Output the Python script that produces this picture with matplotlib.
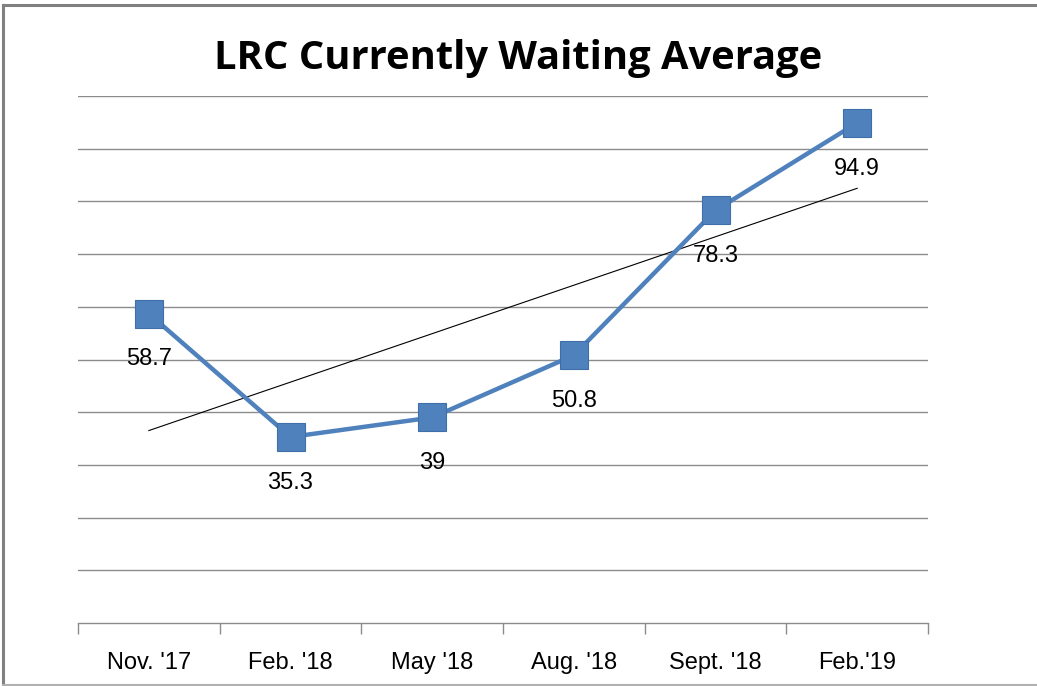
import matplotlib
matplotlib.use("Agg")
import matplotlib.pyplot as plt
from matplotlib.lines import Line2D
import numpy as np

categories = ["Nov. '17", "Feb. '18", "May '18", "Aug. '18", "Sept. '18", "Feb.'19"]
values = [58.7, 35.3, 39, 50.8, 78.3, 94.9]
labels = ["58.7", "35.3", "39", "50.8", "78.3", "94.9"]

fig = plt.figure(figsize=(10.37, 6.86), dpi=100)
ax = fig.add_axes([78/1037, 63/686, 850/1037, 527/686])

x = np.arange(len(categories))
ax.set_xlim(-0.5, len(categories) - 0.5)
ax.set_ylim(0, 100)

for g in range(10, 101, 10):
    ax.axhline(g, color="#8c8c8c", lw=1.0, zorder=0)

# trendline (linear fit)
slope, intercept = np.polyfit(x, values, 1)
ax.plot(x, slope * x + intercept, color="black", lw=0.8, zorder=2)

ax.plot(x, values, color="#4F81BD", lw=3.2, marker="s", markersize=20,
        markerfacecolor="#4F81BD", markeredgecolor="#3E6FA8", markeredgewidth=0.8, zorder=3)

for xi, v, t in zip(x, values, labels):
    ax.annotate(t, (xi, v), xytext=(0, -33), textcoords="offset points",
                ha="center", va="center", fontsize=17, family="Liberation Sans", color="#000000")

for s in ["top", "right", "left"]:
    ax.spines[s].set_visible(False)
ax.spines["bottom"].set_color("#8c8c8c")
ax.spines["bottom"].set_linewidth(1.0)

ax.set_yticks([])
ax.set_xticks(np.arange(-0.5, len(categories), 1.0))
ax.set_xticklabels([])
ax.set_xticks(x, minor=True)
ax.set_xticklabels(categories, minor=True, fontsize=17, family="Liberation Sans")
ax.tick_params(axis="x", which="major", direction="out", length=8, color="#8c8c8c", width=1.0)
ax.tick_params(axis="x", which="minor", length=0, pad=21)

fig.text(0.5, 1 - 58/686, "LRC Currently Waiting Average", ha="center", va="center",
         fontsize=28.7, fontweight="bold", family="Open Sans")

# chart border
fig.add_artist(Line2D([3/1037, 3/1037], [1/686, 681/686], color="#808080", lw=2.2, transform=fig.transFigure))
fig.add_artist(Line2D([3/1037, 1], [681/686, 681/686], color="#808080", lw=2.2, transform=fig.transFigure))
fig.add_artist(Line2D([3/1037, 1], [1/686, 1/686], color="#b0b0b0", lw=1.5, transform=fig.transFigure))

fig.savefig("out.png", dpi=100)
